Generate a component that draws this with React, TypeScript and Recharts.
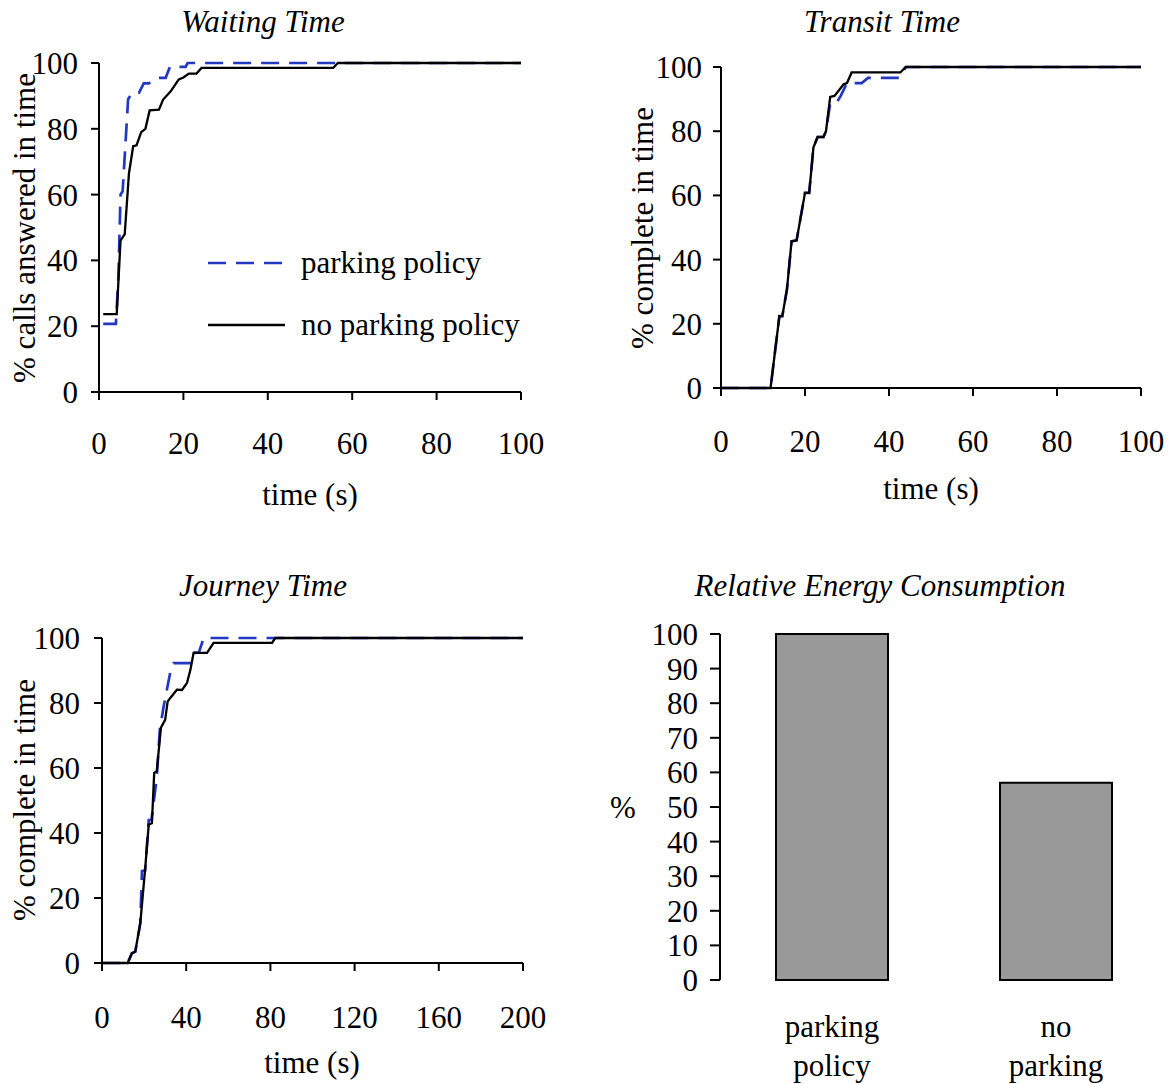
import React from 'react';
import {
  LineChart, Line, BarChart, Bar, XAxis, YAxis, Legend,
} from 'recharts';

// cumulative % vs time (s)
const waitParking = [
  { t: 1, v: 20.7 }, { t: 4, v: 20.7 }, { t: 4.6, v: 35 }, { t: 5.1, v: 60 }, { t: 5.6, v: 61 },
  { t: 6.9, v: 89 }, { t: 7.9, v: 91 }, { t: 9.5, v: 91 }, { t: 10.6, v: 93.8 }, { t: 11.8, v: 93.8 },
  { t: 13.8, v: 95.5 }, { t: 15.8, v: 95.5 }, { t: 16.8, v: 98.8 }, { t: 20.5, v: 98.8 },
  { t: 21, v: 100 }, { t: 100, v: 100 },
];
const waitNoParking = [
  { t: 1, v: 23.7 }, { t: 4.2, v: 23.7 }, { t: 5.1, v: 46 }, { t: 6.1, v: 48 }, { t: 7.1, v: 66.5 },
  { t: 8.1, v: 74.7 }, { t: 8.9, v: 75 }, { t: 10, v: 79 }, { t: 11, v: 80 }, { t: 12, v: 85.6 },
  { t: 14.2, v: 85.8 }, { t: 15.2, v: 88.9 }, { t: 17, v: 91.4 }, { t: 18.9, v: 95 }, { t: 20, v: 95.6 },
  { t: 21.3, v: 96.8 }, { t: 23.1, v: 96.8 }, { t: 24.3, v: 98.5 }, { t: 55.5, v: 98.5 },
  { t: 56.6, v: 100 }, { t: 100, v: 100 },
];
const transitParking = [
  { t: 0, v: 0 }, { t: 11.8, v: 0 }, { t: 13.9, v: 22.4 }, { t: 14.6, v: 22.4 }, { t: 15.7, v: 30.7 },
  { t: 16.8, v: 45.7 }, { t: 18, v: 46 }, { t: 20, v: 60.8 }, { t: 21, v: 60.8 }, { t: 22, v: 74.9 },
  { t: 23, v: 78.2 }, { t: 24.4, v: 78.2 }, { t: 25, v: 80 }, { t: 26, v: 88.8 }, { t: 27.5, v: 88.8 },
  { t: 28.5, v: 91 }, { t: 30, v: 95 }, { t: 33.5, v: 95 }, { t: 35, v: 96.6 }, { t: 42.5, v: 96.6 },
  { t: 44, v: 100 }, { t: 100, v: 100 },
];
const transitNoParking = [
  { t: 0, v: 0 }, { t: 11.8, v: 0 }, { t: 13.9, v: 22.4 }, { t: 14.6, v: 22.4 }, { t: 15.7, v: 30.7 },
  { t: 16.8, v: 45.7 }, { t: 18, v: 46 }, { t: 20, v: 60.8 }, { t: 21, v: 60.8 }, { t: 22, v: 74.9 },
  { t: 23, v: 78.2 }, { t: 24.4, v: 78.2 }, { t: 25, v: 80 }, { t: 26, v: 90.7 }, { t: 27, v: 91 },
  { t: 28, v: 92.6 }, { t: 29.2, v: 94.6 }, { t: 30, v: 95 }, { t: 31.1, v: 98.3 }, { t: 42.7, v: 98.3 },
  { t: 44, v: 100 }, { t: 100, v: 100 },
];
const journeyParking = [
  { t: 0, v: 0 }, { t: 12.2, v: 0 }, { t: 14.2, v: 3 }, { t: 15.8, v: 3.5 }, { t: 18.2, v: 12.3 },
  { t: 19, v: 28.3 }, { t: 20.5, v: 28.5 }, { t: 22.2, v: 44 }, { t: 23.5, v: 44 }, { t: 26, v: 57 },
  { t: 27.5, v: 72 }, { t: 29.3, v: 79 }, { t: 32.4, v: 89.3 }, { t: 34, v: 92.3 }, { t: 42.7, v: 92.3 },
  { t: 44, v: 95.5 }, { t: 46, v: 95.5 }, { t: 48.3, v: 100 }, { t: 200, v: 100 },
];
const journeyNoParking = [
  { t: 0, v: 0 }, { t: 12.2, v: 0 }, { t: 14.2, v: 3 }, { t: 15.8, v: 3.5 }, { t: 18.2, v: 12.3 },
  { t: 20.6, v: 29.7 }, { t: 22.2, v: 42.6 }, { t: 23.7, v: 43 }, { t: 24.8, v: 58.5 }, { t: 26, v: 59 },
  { t: 28, v: 72.4 }, { t: 30, v: 74.8 }, { t: 31.2, v: 80.5 }, { t: 33, v: 82 }, { t: 35.6, v: 84.1 },
  { t: 38, v: 84 }, { t: 40.4, v: 86.2 }, { t: 42, v: 90.2 }, { t: 43.5, v: 95.4 }, { t: 49.9, v: 95.4 },
  { t: 53, v: 98.5 }, { t: 80.8, v: 98.5 }, { t: 82.3, v: 100 }, { t: 200, v: 100 },
];

const seriesNames = ['parking policy', 'no parking policy'];

const energyCategories = ['parking policy', 'no parking'];
const energyValues = [100, 57];

const pctTicks = [0, 20, 40, 60, 80, 100];
const time100Ticks = [0, 20, 40, 60, 80, 100];
const time200Ticks = [0, 40, 80, 120, 160, 200];
const energyTicks = [0, 10, 20, 30, 40, 50, 60, 70, 80, 90, 100];

const FONT = '"Liberation Serif", "Times New Roman", serif';
const FS = 31;
const BLUE = '#2338c0';
const DASH = '18 10';
const tickStyle = { fill: '#000', fontSize: FS, fontFamily: FONT };

const dashFor: Record<string, string | undefined> = {
  [seriesNames[0]]: DASH,
  [seriesNames[1]]: undefined,
};

// keep legend rows in the series order (recharts sorts by name otherwise)
const LegendBox = (props: any) => {
  const items = [...(props.payload || [])].sort(
    (a: any, b: any) => seriesNames.indexOf(a.value) - seriesNames.indexOf(b.value),
  );
  return (
    <div style={{ fontFamily: FONT, fontSize: FS, color: '#000' }}>
      {items.map((entry: any) => (
        <div key={entry.value} style={{ display: 'flex', alignItems: 'center', height: 62 }}>
          <svg width={88} height={10} style={{ marginRight: 8 }}>
            <line x1={3} y1={5} x2={80} y2={5} stroke={entry.color} strokeWidth={2.6}
              strokeDasharray={dashFor[entry.value]} />
          </svg>
          <span>{entry.value}</span>
        </div>
      ))}
    </div>
  );
};

interface PanelProps {
  left: number; top: number; width: number; height: number;
  margin: { top: number; right: number; bottom: number; left: number };
  xMax: number; xTicks: number[];
  parking: { t: number; v: number }[];
  noParking: { t: number; v: number }[];
  xTickMargin: number; yTickMargin: number;
  legend?: boolean;
}

const CdfPanel: React.FC<PanelProps> = (p) => (
  <div style={{ position: 'absolute', left: p.left, top: p.top }}>
    <LineChart width={p.width} height={p.height} margin={p.margin}>
      <XAxis type="number" dataKey="t" domain={[0, p.xMax]} ticks={p.xTicks} height={60}
        tick={tickStyle} tickSize={8} tickMargin={p.xTickMargin}
        axisLine={{ stroke: '#000', strokeWidth: 2 }} tickLine={{ stroke: '#000', strokeWidth: 2 }} />
      <YAxis type="number" domain={[0, 100]} ticks={pctTicks} width={60}
        tick={tickStyle} tickSize={8} tickMargin={p.yTickMargin}
        axisLine={{ stroke: '#000', strokeWidth: 2 }} tickLine={{ stroke: '#000', strokeWidth: 2 }} />
      <Line data={p.parking} dataKey="v" name={seriesNames[0]} type="linear" stroke={BLUE}
        strokeWidth={2.7} strokeDasharray={DASH} dot={false} isAnimationActive={false} />
      <Line data={p.noParking} dataKey="v" name={seriesNames[1]} type="linear" stroke="#000"
        strokeWidth={2.3} dot={false} isAnimationActive={false} />
      {p.legend && (
        <Legend layout="vertical" align="center" verticalAlign="middle" content={<LegendBox />}
          wrapperStyle={{ left: 205, top: 232, width: 'auto' }} />
      )}
    </LineChart>
  </div>
);

const FrameTick = (props: any) => (
  <line x1={props.x} x2={props.x} y1={props.y - 8} y2={props.y + 10} stroke="#000" strokeWidth={2} />
);

const CategoryTick = (props: any) => {
  const words = String(props.payload.value).split(' ');
  return (
    <text x={props.x} y={props.y} textAnchor="middle" fontFamily={FONT} fontSize={FS} fill="#000">
      {words.map((w, i) => (
        <tspan key={w} x={props.x} dy={i === 0 ? 57 : 39}>{w}</tspan>
      ))}
    </text>
  );
};

const energyRows = energyCategories.map((name, i) => ({ name, value: energyValues[i] }));

const EnergyPanel = () => (
  <div style={{ position: 'absolute', left: 600, top: 560 }}>
    <BarChart width={576} height={524} data={energyRows} barCategoryGap="25%"
      margin={{ top: 74, right: 8, bottom: 0, left: 60 }}>
      <XAxis xAxisId="frame" type="number" domain={[0, 2]} ticks={[0, 1, 2]} allowDataOverflow
        height={0} tickSize={0} tickMargin={0} tickLine={false} tick={<FrameTick />}
        axisLine={{ stroke: '#000', strokeWidth: 2 }} />
      <XAxis xAxisId="cat" dataKey="name" height={104} tickSize={0} tickMargin={0} interval={0}
        axisLine={false} tickLine={false} tick={<CategoryTick />} />
      <YAxis domain={[0, 100]} ticks={energyTicks} width={60} tick={tickStyle}
        tickSize={10} tickMargin={12} interval={0}
        axisLine={{ stroke: '#000', strokeWidth: 2 }} tickLine={{ stroke: '#000', strokeWidth: 2 }} />
      <Bar xAxisId="cat" dataKey="value" fill="#999999" stroke="#000" strokeWidth={2}
        isAnimationActive={false} />
    </BarChart>
  </div>
);

const App: React.FC = () => (
  <div style={{ position: 'absolute', left: 0, top: 0, width: 1176, height: 1084, background: '#fff' }}>
    <CdfPanel left={0} top={0} width={580} height={540}
      margin={{ top: 63, right: 59, bottom: 88, left: 39 }}
      xMax={100} xTicks={time100Ticks} parking={waitParking} noParking={waitNoParking}
      xTickMargin={32} yTickMargin={13} legend />
    <CdfPanel left={600} top={0} width={576} height={540}
      margin={{ top: 67, right: 35, bottom: 92, left: 61 }}
      xMax={100} xTicks={time100Ticks} parking={transitParking} noParking={transitNoParking}
      xTickMargin={34} yTickMargin={11} />
    <CdfPanel left={0} top={560} width={580} height={524}
      margin={{ top: 78, right: 57, bottom: 61, left: 42 }}
      xMax={200} xTicks={time200Ticks} parking={journeyParking} noParking={journeyNoParking}
      xTickMargin={35} yTickMargin={14} />
    <EnergyPanel />
    <svg width={1176} height={1084} style={{ position: 'absolute', left: 0, top: 0, pointerEvents: 'none' }}
      fontFamily={FONT} fontSize={FS} fill="#000">
      <text x={263} y={32} textAnchor="middle" fontStyle="italic">Waiting Time</text>
      <text x={882} y={32} textAnchor="middle" fontStyle="italic">Transit Time</text>
      <text x={263} y={596} textAnchor="middle" fontStyle="italic">Journey Time</text>
      <text x={880} y={596} textAnchor="middle" fontStyle="italic">Relative Energy Consumption</text>
      <text x={310} y={505} textAnchor="middle">time (s)</text>
      <text x={931} y={499} textAnchor="middle">time (s)</text>
      <text x={312} y={1073} textAnchor="middle">time (s)</text>
      <text transform="translate(35,228) rotate(-90)" textAnchor="middle">% calls answered in time</text>
      <text transform="translate(653,228) rotate(-90)" textAnchor="middle">% complete in time</text>
      <text transform="translate(35,800) rotate(-90)" textAnchor="middle">% complete in time</text>
      <text x={623} y={818} textAnchor="middle">%</text>
    </svg>
  </div>
);

export default App;
